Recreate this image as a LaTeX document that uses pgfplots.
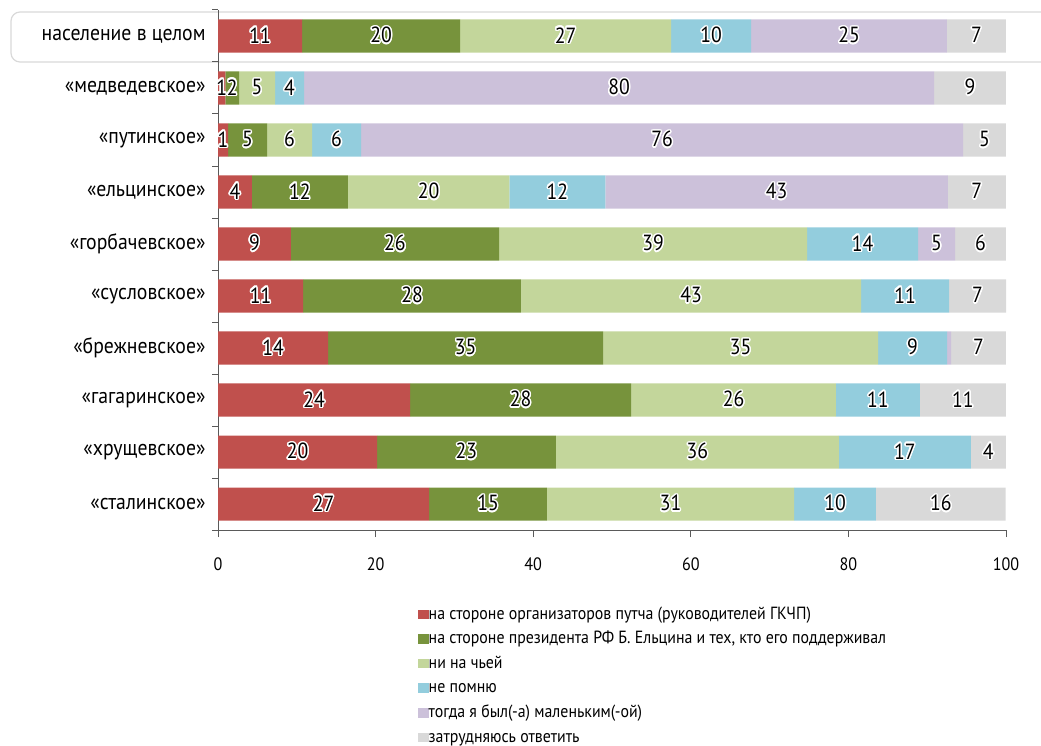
\documentclass[border=0pt]{standalone}
\usepackage{fontspec}
\setmainfont{PT Sans}[FakeStretch=0.9]
\usepackage{pgfplots}
\pgfplotsset{compat=1.18}
\usepackage{contour}
\contourlength{1.5bp}
\definecolor{cRed}{RGB}{192,80,77}
\definecolor{cGreen}{RGB}{119,147,60}
\definecolor{cLight}{RGB}{195,214,155}
\definecolor{cBlue}{RGB}{147,205,221}
\definecolor{cPurple}{RGB}{204,193,218}
\definecolor{cGray}{RGB}{217,217,217}
\definecolor{cAxis}{RGB}{90,90,90}
\pgfplotsset{myleg/.style={legend image code/.code={\fill[##1,draw=none] (0bp,-4.5bp) rectangle (10.5bp,5bp);}}}
\begin{document}
\begin{tikzpicture}[x=1bp,y=1bp]
\path[use as bounding box] (0,0) rectangle (1041,-746);
\draw[rounded corners=9bp, line width=1.2bp, color=black!15] (11,-12) rectangle (1080,-62);
\begin{axis}[
  at={(218bp,-530bp)}, anchor=south west,
  width=788bp, height=520bp, scale only axis,
  xbar stacked, bar width=0.635,
  xmin=0, xmax=100, ymin=-0.5, ymax=9.5,
  axis x line*=bottom, axis y line*=left,
  axis line style={cAxis, line width=1bp},
  xtick={0,20,...,100},
  ytick={0,...,9},
  yticklabels={«сталинское»,«хрущевское»,«гагаринское»,«брежневское»,«сусловское»,«горбачевское»,«ельцинское»,«путинское»,«медведевское»,население в целом},
  minor ytick={-0.5,0.5,...,9.5},
  tick align=outside,
  major tick length=7bp, minor tick length=6bp,
  every major y tick/.style={draw=none},
  tick style={cAxis, line width=1bp},
  /pgf/number format/assume math mode=true,
  xticklabel style={font=\fontsize{18}{20}\selectfont, yshift=-17bp},
  yticklabel style={font=\fontsize{22}{24}\selectfont, anchor=east, xshift=-2bp},
  point meta=explicit symbolic,
  nodes near coords={\contour{white}{\pgfplotspointmeta}},
  every node near coord/.append style={anchor=center, font=\fontsize{22}{24}\selectfont, text=black},
  legend style={at={(0.2538,-0.146)}, anchor=north west, draw=none, fill=none,
    font=\fontsize{17.7}{19}\selectfont, inner sep=0pt, row sep=7.6bp,
    nodes={inner sep=0pt, text height=13bp, text depth=4bp}},
  legend cell align=left,
]
\addplot[fill=cRed, draw=none, myleg] coordinates {
(26.78,0) [27] (20.18,1) [20] (24.37,2) [24] (13.96,3) [14] (10.79,4) [11]
(9.26,5) [9] (4.31,6) [4] (1.27,7) [1] (0.93,8) [1] (10.66,9) [11]};
\addplot[fill=cGreen, draw=none, myleg] coordinates {
(14.97,0) [15] (22.70,1) [23] (28.05,2) [28] (34.90,3) [35] (27.66,4) [28]
(26.40,5) [26] (12.18,6) [12] (4.95,7) [5] (1.74,8) [2] (20.05,9) [20]};
\addplot[fill=cLight, draw=none, myleg] coordinates {
(31.35,0) [31] (35.90,1) [36] (26.00,2) [26] (34.90,3) [35] (43.15,4) [43]
(39.09,5) [39] (20.49,6) [20] (5.71,7) [6] (4.57,8) [5] (26.78,9) [27]};
\addplot[fill=cBlue, draw=none, myleg] coordinates {
(10.40,0) [10] (16.75,1) [17] (10.66,2) [11] (8.76,3) [9] (11.17,4) [11]
(14.09,5) [14] (12.18,6) [12] (6.22,7) [6] (3.68,8) [4] (10.15,9) [10]};
\addplot[fill=cPurple, draw=none, myleg] coordinates {
(0,0) [{}] (0,1) [{}] (0,2) [{}] (0.5,3) [{}] (0,4) [{}]
(4.70,5) [5] (43.45,6) [43] (76.40,7) [76] (79.95,8) [80] (24.87,9) [25]};
\addplot[fill=cGray, draw=none, myleg] coordinates {
(16.45,0) [16] (4.44,1) [4] (10.91,2) [11] (6.97,3) [7] (7.23,4) [7]
(6.45,5) [6] (7.36,6) [7] (5.44,7) [5] (9.12,8) [9] (7.48,9) [7]};
\legend{на стороне организаторов путча (руководителей ГКЧП),
{на стороне президента РФ Б. Ельцина и тех, кто его поддерживал},
ни на чьей, не помню, тогда я был(-а) маленьким(-ой), затрудняюсь ответить}
\end{axis}
\end{tikzpicture}
\end{document}
